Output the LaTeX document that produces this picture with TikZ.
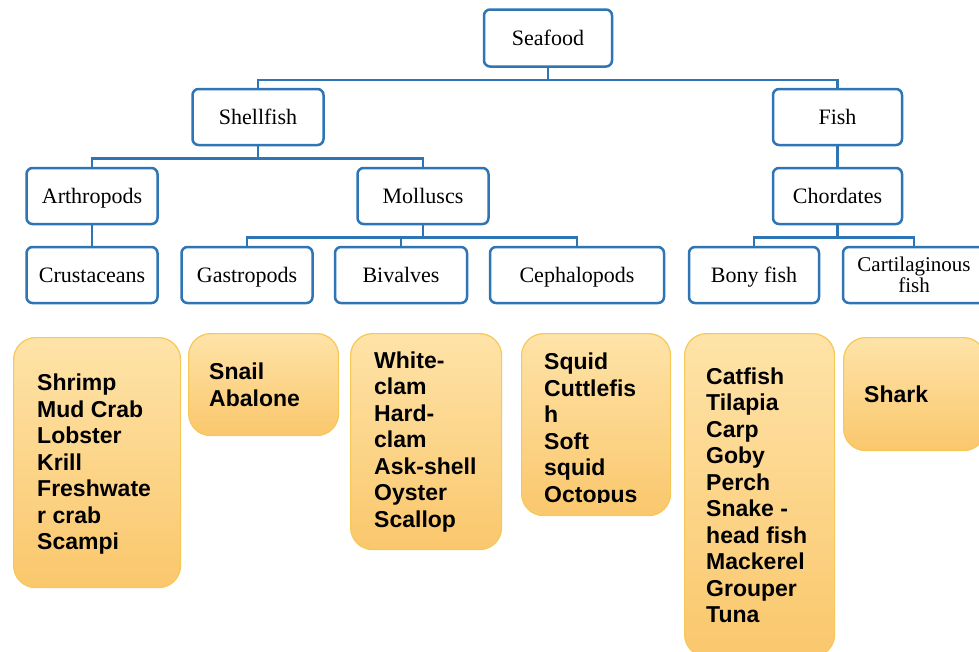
\documentclass[tikz,border=0pt]{standalone}
\usepackage{fontspec}
\setmainfont{Liberation Serif}
\newfontfamily\listfont{Liberation Sans}
\usetikzlibrary{positioning}
\definecolor{catblue}{RGB}{46,117,182}
\definecolor{listtop}{RGB}{254,227,168}
\definecolor{listbot}{RGB}{250,199,108}
\definecolor{listedge}{RGB}{246,200,88}
\tikzset{
  cat/.style={draw=catblue,line width=2.5pt,rounded corners=6pt,fill=white,minimum width=131pt,minimum height=56pt,inner sep=2pt,text height=16pt,text depth=2pt,font=\fontsize{22}{24}\selectfont},
  link/.style={draw=catblue,line width=2.5pt},
  listbox/.style={draw=listedge,line width=1.2pt,rounded corners=22pt,top color=listtop,bottom color=listbot,anchor=north west},
  listtext/.style={anchor=west,align=left,inner sep=0pt,font=\listfont\bfseries\fontsize{23}{26.5}\selectfont}
}
\begin{document}
\begin{tikzpicture}[x=1pt,y=1pt,node distance=79pt]
\useasboundingbox (0,0) rectangle (979,-651);
\clip (0,0) rectangle (979,-651);
\node[cat,minimum width=128pt,minimum height=57pt](SF) at (548,-38){Seafood};
\node[cat,below of = SF,xshift=-290pt](SH){Shellfish};
\node[cat,below of = SF,xshift=289.5pt,minimum width=129pt](FI){Fish};
\node[cat,below of = SH,xshift=-166pt](AR){Arthropods};
\node[cat,below of = SH,xshift=165pt](MO){Molluscs};
\node[cat,below of = FI,minimum width=129pt](CH){Chordates};
\node[cat,below of = AR](CR){Crustaceans};
\node[cat,below of = MO,xshift=-176pt](GA){Gastropods};
\node[cat,below of = MO,xshift=-22pt,minimum width=132pt](BI){Bivalves};
\node[cat,below of = MO,xshift=154pt,minimum width=174pt](CE){Cephalopods};
\node[cat,below of = CH,xshift=-83.5pt,minimum width=130pt](BO){Bony fish};
\node[cat,below of = CH,xshift=76.5pt,minimum width=142pt,text height={},text depth={},align=center,font=\fontsize{21}{21}\selectfont](CA){Cartilaginous\\fish};
\draw[link] (SF.south) -- ++(0,-12) -| (SH.north);
\draw[link] (SF.south) -- ++(0,-12) -| (FI.north);
\draw[link] (SH.south) -- ++(0,-12) -| (AR.north);
\draw[link] (SH.south) -- ++(0,-12) -| (MO.north);
\draw[link] (FI) -- (CH);
\draw[link] (AR) -- (CR);
\draw[link] (MO.south) -- ++(0,-12) -| (GA.north);
\draw[link] (MO.south) -- ++(0,-12) -| (BI.north);
\draw[link] (MO.south) -- ++(0,-12) -| (CE.north);
\draw[link] (CH.south) -- ++(0,-12) -| (BO.north);
\draw[link] (CH.south) -- ++(0,-12) -| (CA.north);
\node[listbox,minimum width=167pt,minimum height=250pt](L1) at (13,-337){};
\node[listtext,right=24pt of L1.west,yshift=-1.5pt](T1){Shrimp\\Mud Crab\\Lobster\\Krill\\Freshwate\\r crab\\Scampi};
\node[listbox,minimum width=150pt,minimum height=102pt](L2) at (188,-333){};
\node[listtext,right=21pt of L2.west](T2){Snail\\Abalone};
\node[listbox,minimum width=151pt,minimum height=216pt](L3) at (350,-333){};
\node[listtext,right=24pt of L3.west](T3){White-\\clam\\Hard-\\clam\\Ask-shell\\Oyster\\Scallop};
\node[listbox,minimum width=149pt,minimum height=182pt](L4) at (521,-333){};
\begin{scope}
\clip (L4.north west) rectangle ([yshift=13.5pt]L4.south east);
\node[listtext,right=23pt of L4.west,yshift=-5.5pt](T4){Squid\\Cuttlefis\\h\\Soft\\squid\\Octopus};
\end{scope}
\node[listbox,minimum width=150pt,minimum height=323pt](L5) at (684,-333){};
\node[listtext,right=22pt of L5.west](T5){Catfish\\Tilapia\\Carp\\Goby\\Perch\\Snake -\\head fish\\Mackerel\\Grouper\\Tuna};
\node[listbox,minimum width=142pt,minimum height=113pt](L6) at (843,-337){};
\node[listtext,right=21pt of L6.west](T6){Shark};
\end{tikzpicture}
\end{document}
